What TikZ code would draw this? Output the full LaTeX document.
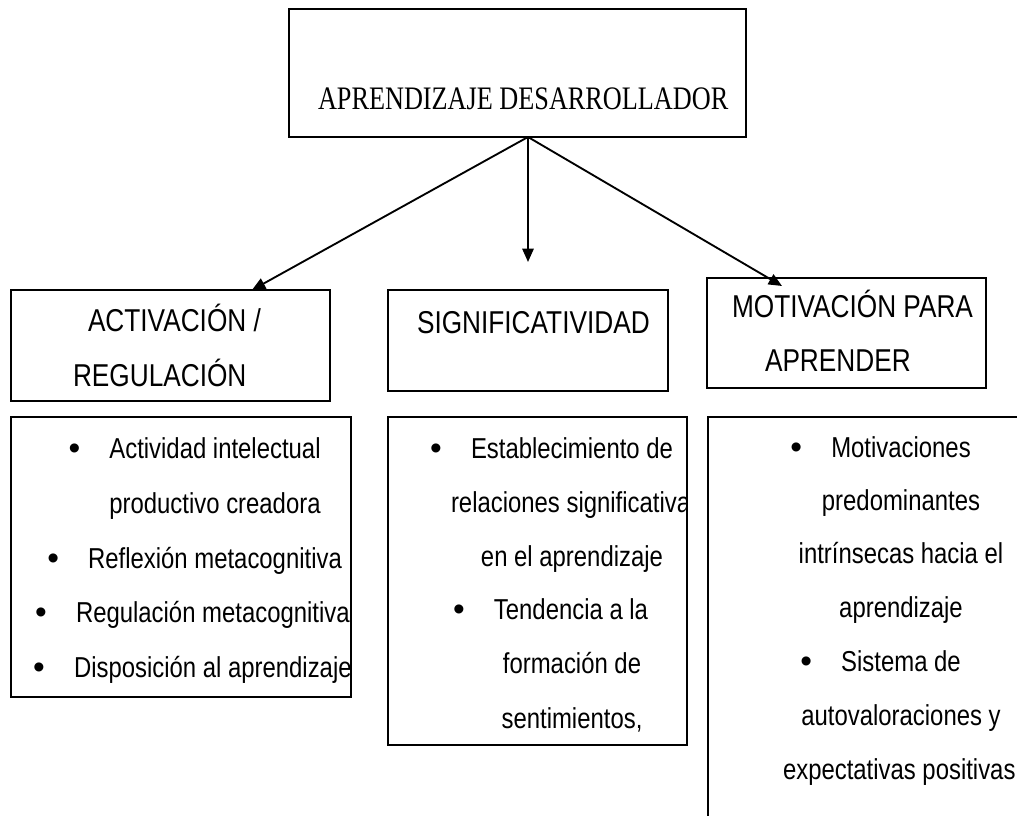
\documentclass[tikz,border=0pt]{standalone}
\usepackage{fontspec}
\newfontfamily\bodyfont[FakeStretch=0.83]{Liberation Sans}
\newfontfamily\bulletfont{Liberation Sans}
\newfontfamily\titlefont[FakeStretch=0.80]{Liberation Serif}
\usetikzlibrary{arrows.meta,fit}
\begin{document}
\begin{tikzpicture}[x=0.75pt,y=-0.75pt,
  box/.style={draw=black, line width=1.2pt, inner sep=0pt, outer sep=0pt},
  txt/.style={inner sep=0pt, outer sep=0pt, text=black, font=\bodyfont\fontsize{21.6pt}{26pt}\selectfont},
  hdr/.style={inner sep=0pt, outer sep=0pt, text=black, font=\bodyfont\fontsize{23.7pt}{28pt}\selectfont},
  ttl/.style={inner sep=0pt, outer sep=0pt, text=black, font=\titlefont\fontsize{24.6pt}{30pt}\selectfont},
  bul/.style={inner sep=0pt, outer sep=0pt, text=black, font=\bulletfont\fontsize{25pt}{28pt}\selectfont, anchor=base, yshift=-1pt},
  arr/.style={line width=1.4pt, -{Triangle[length=10pt,width=8.5pt]}}]
\useasboundingbox (0,0) rectangle (1017,816);
\clip (0,0) rectangle (1017,816);

% boxes
\node[box, fit={(289,9) (746,137)}] (top) {};
\node[box, fit={(11,290) (330,401)}] (hdrL) {};
\node[box, fit={(388,290) (668,391)}] (hdrM) {};
\node[box, fit={(707,278) (986,388)}] (hdrR) {};
\node[box, fit={(11,417) (351,697)}] (lowL) {};
\node[box, fit={(388,417) (687,745)}] (lowM) {};
\node[box, fit={(708,417) (1060,860)}] (lowR) {};

% title
\node[ttl, anchor=base west] (title) at (318,110) {APRENDIZAJE DESARROLLADOR};

% connectors
\coordinate (hub) at (528,137);
\coordinate (tipL) at (252,290);
\coordinate (tipM) at (528,262);
\coordinate (tipR) at (782,286);
\draw[arr] (hub) -- (tipL);
\draw[arr] (hub) -- (tipM);
\draw[arr] (hub) -- (tipR);

% headers
\node[hdr, anchor=base west] (h1a) at (88,332) {ACTIVACIÓN /};
\node[hdr, anchor=base west] (h1b) at (73,387) {REGULACIÓN};
\node[hdr, anchor=base west] (h2) at (417,334) {SIGNIFICATIVIDAD};
\node[hdr, anchor=base west] (h3a) at (732,318) {MOTIVACIÓN PARA};
\node[hdr, anchor=base west] (h3b) at (765,372) {APRENDER};

% left column
\begin{scope}
\clip (lowL.south west) rectangle (lowL.north east);
\node[txt, anchor=base] (l1) at (215,458) {Actividad intelectual};
\node[txt, anchor=base] (l2) at (215,513) {productivo creadora};
\node[txt, anchor=base] (l3) at (215,568) {Reflexión metacognitiva};
\node[txt, anchor=base west] (l4) at (76,622) {Regulación metacognitiva};
\node[txt, anchor=base west] (l5) at (74,677) {Disposición al aprendizaje};
\node[bul] (bl1) at ([xshift=-26.25pt]l1.base west) {•};
\node[bul] (bl3) at ([xshift=-26.25pt]l3.base west) {•};
\node[bul] (bl4) at ([xshift=-26.25pt]l4.base west) {•};
\node[bul] (bl5) at ([xshift=-26.25pt]l5.base west) {•};
\end{scope}

% middle column
\begin{scope}
\clip (lowM.south west) rectangle (lowM.north east);
\node[txt, anchor=base] (m1) at (572,458) {Establecimiento de};
\node[txt, anchor=base west] (m2) at (451,512) {relaciones significativas};
\node[txt, anchor=base] (m3) at (572,566) {en el aprendizaje};
\node[txt, anchor=base] (m4) at (571,619) {Tendencia a la};
\node[txt, anchor=base] (m5) at (572,673) {formación de};
\node[txt, anchor=base] (m6) at (572,728) {sentimientos,};
\node[bul] (bm1) at ([xshift=-26.25pt]m1.base west) {•};
\node[bul] (bm4) at ([xshift=-26.25pt]m4.base west) {•};
\end{scope}

% right column
\node[txt, anchor=base] (r1) at (901,457) {Motivaciones};
\node[txt, anchor=base] (r2) at (901,510) {predominantes};
\node[txt, anchor=base] (r3) at (901,563) {intrínsecas hacia el};
\node[txt, anchor=base] (r4) at (901,617) {aprendizaje};
\node[txt, anchor=base] (r5) at (901,671) {Sistema de};
\node[txt, anchor=base] (r6) at (901,725) {autovaloraciones y};
\node[txt, anchor=base west] (r7) at (783,779) {expectativas positivas};
\node[bul] (br1) at ([xshift=-26.25pt]r1.base west) {•};
\node[bul] (br5) at ([xshift=-26.25pt]r5.base west) {•};
\end{tikzpicture}
\end{document}
